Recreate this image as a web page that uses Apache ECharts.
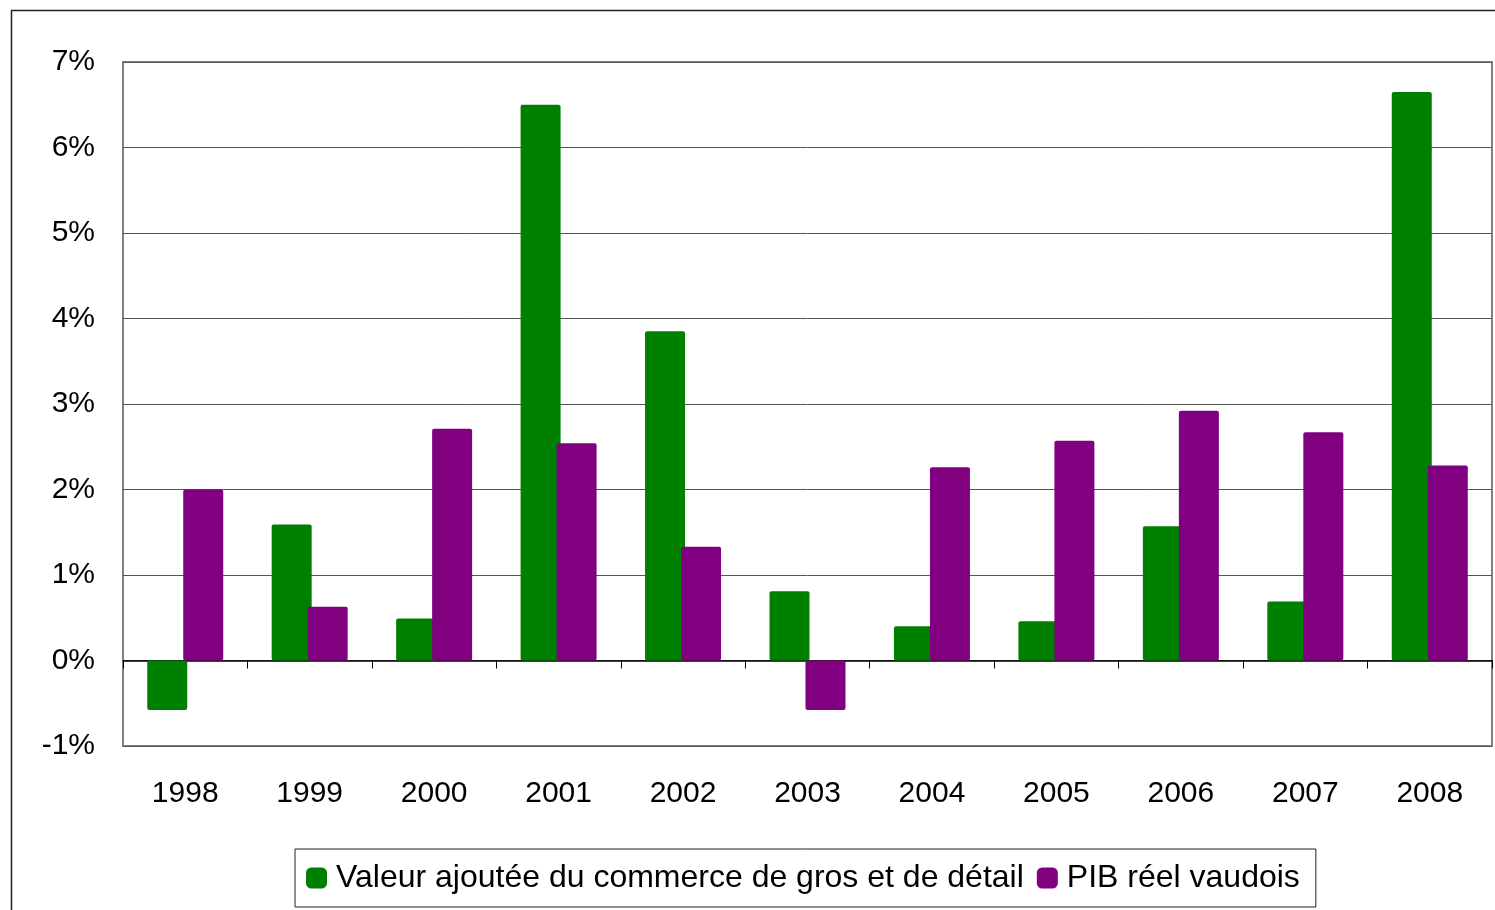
<!DOCTYPE html>
<html><head><meta charset="utf-8">
<script src="https://cdn.jsdelivr.net/npm/echarts@6/dist/echarts.min.js"></script>
<style>html,body{margin:0;padding:0;background:#fff}#c{width:1495px;height:910px}</style>
</head><body><div id="c"></div>
<script>
const categories = ['1998','1999','2000','2001','2002','2003','2004','2005','2006','2007','2008'];
const commerce = [-0.58, 1.59, 0.49, 6.50, 3.85, 0.81, 0.40, 0.46, 1.57, 0.69, 6.65];
const pib = [2.00, 0.63, 2.71, 2.54, 1.33, -0.58, 2.26, 2.57, 2.92, 2.67, 2.28];
const seriesNames = ['Valeur ajoutée du commerce de gros et de détail', 'PIB réel vaudois'];
const colors = ['#008000', '#800080'];

const chart = echarts.init(document.getElementById('c'));
const font = 'Liberation Sans, Arial, sans-serif';
chart.setOption({
  animation: false,
  graphic: [{type:'rect', shape:{x:11.5,y:10.5,width:1600,height:1000}, style:{fill:'none', stroke:'#222', lineWidth:1.5}, z:-10}],
  grid: {left:123, right:3, top:62, bottom:164, show:true, borderColor:'#808080', borderWidth:2, backgroundColor:'transparent'},
  legend: {
    data: seriesNames, left:295, top:849, orient:'horizontal',
    borderColor:'#222', borderWidth:1, padding:[13,16,13,11],
    itemWidth:21, itemHeight:21, itemGap:13,
    icon:'roundRect',
    textStyle:{fontFamily:font, fontSize:32, color:'#000', padding:[0,0,0,4]}
  },
  xAxis: [
    {type:'category', data:categories, position:'bottom',
     axisLine:{show:false, onZero:false}, axisTick:{show:false},
     axisLabel:{fontFamily:font, fontSize:30, color:'#000', margin:33}},
    {type:'category', data:categories, position:'top',
     axisLine:{show:true, onZero:true, lineStyle:{color:'#000', width:1.5}},
     axisTick:{show:true, inside:true, length:8, lineStyle:{color:'#000', width:1}},
     axisLabel:{show:false}}
  ],
  yAxis: {type:'value', min:-1, max:7, interval:1,
    axisLine:{show:false}, axisTick:{show:false},
    axisLabel:{fontFamily:font, fontSize:30, color:'#000', margin:28, formatter: v => v + '%'},
    splitLine:{lineStyle:{color:'#555', width:1}}
  },
  series: [
    {name:seriesNames[0], type:'bar', data:commerce, xAxisIndex:0, barWidth:40, barGap:'-10%',
     itemStyle:{color:colors[0], borderRadius:2}},
    {name:seriesNames[1], type:'bar', data:pib, xAxisIndex:0, barWidth:40, barGap:'-10%',
     itemStyle:{color:colors[1], borderRadius:2}}
  ]
});
</script></body></html>
